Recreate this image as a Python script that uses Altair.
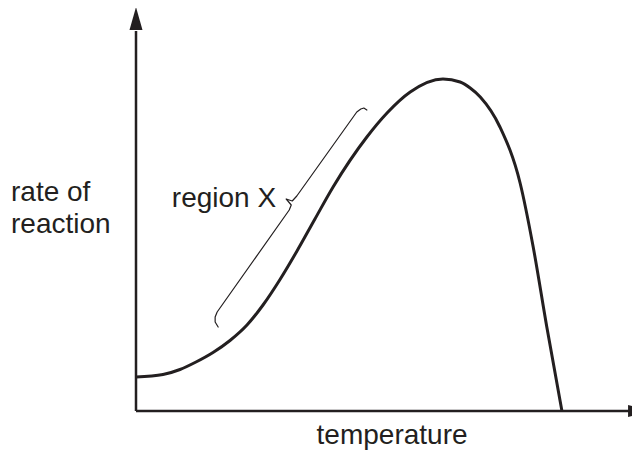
import altair as alt
import pandas as pd

INK = "#231f20"
FONT = "Liberation Sans"

# curve: rate of reaction vs temperature (arbitrary units, axes 0..100)
temp = [0, 5.36, 8.73, 11.9, 15.28, 18.65, 22.02, 25.2, 28.57, 31.94, 35.5, 39.1, 45.8, 49.8,
        54.4, 60.9, 64.3, 66.3, 68.3, 72.2, 76.2, 78.8, 81.5, 84.5]
rate = [8.5, 9.13, 10.38, 12.25, 14.63, 17.63, 21.5, 26.5, 32.88, 40.0, 48.0, 56.0, 68.5, 74.5,
        79.75, 83.0, 82.25, 80.75, 78.5, 71.0, 57.0, 41.0, 21.0, 0]

# brace marking "region X"
brace_x = [16.3, 15.7, 15.7, 16.1, 30.4, 30.8, 29.8, 31.0, 31.9, 43.8, 44.6, 45.2, 45.8]
brace_y = [21.0, 22.25, 23.5, 24.75, 50.25, 51.5, 53.0, 52.5, 53.75, 74.75, 75.5, 75.75, 75.25]

# text labels
label_text = ["rate of", "reaction", "temperature", "region X"]
label_x = [-24.8, -24.8, 50.8, 27.8]
label_y = [52.6, 44.5, -8.25, 51.1]
label_align = ["left", "left", "center", "right"]

curve_df = pd.DataFrame({"t": temp, "r": rate})
brace_df = pd.DataFrame({"t": brace_x, "r": brace_y, "i": list(range(len(brace_x)))})
labels_df = pd.DataFrame({"text": label_text, "t": label_x, "r": label_y, "align": label_align})

xs = alt.Scale(domain=[0, 98.4], nice=False, zero=False)
ys = alt.Scale(domain=[0, 100], nice=False, zero=False)
X = lambda f="t": alt.X(f"{f}:Q", scale=xs, axis=None)
Y = lambda f="r": alt.Y(f"{f}:Q", scale=ys, axis=None)

curve = alt.Chart(curve_df).mark_line(
    interpolate="monotone", color=INK, strokeWidth=3
).encode(x=X(), y=Y())

brace = alt.Chart(brace_df).mark_line(
    color=INK, strokeWidth=1.2, strokeJoin="round", strokeCap="round"
).encode(x=X(), y=Y(), order="i:O")

axes_df = pd.DataFrame({"t": [0, 0], "t2": [0, 98], "r": [0, 0], "r2": [95, 0]})
axes = alt.Chart(axes_df).mark_rule(color=INK, strokeWidth=2.5).encode(
    x=X(), x2="t2:Q", y=Y(), y2="r2:Q"
)

up_df = pd.DataFrame({"t": [0], "r": [98.1]})
up_arrow = alt.Chart(up_df).mark_point(
    shape="M0,-1L0.565,1L-0.565,1Z", size=529, filled=True, color=INK, opacity=1
).encode(x=X(), y=Y())

right_df = pd.DataFrame({"t": [99.8], "r": [0]})
right_arrow = alt.Chart(right_df).mark_point(
    shape="M1,0L-1,-0.55L-1,0.55Z", size=484, filled=True, color=INK, opacity=1
).encode(x=X(), y=Y())

def text_layer(align):
    return alt.Chart(labels_df[labels_df["align"] == align]).mark_text(
        font=FONT, fontSize=28, color=INK, align=align, baseline="alphabetic"
    ).encode(x=X(), y=Y(), text="text:N")

chart = alt.layer(
    axes, up_arrow, right_arrow, curve, brace,
    text_layer("left"), text_layer("center"), text_layer("right")
).properties(
    width=496, height=400,
    padding={"left": 128, "top": 3, "right": 0, "bottom": 40},
    autosize=alt.AutoSizeParams(type="none"),
    background="white",
).configure_view(stroke=None)

chart.save("out.html", embed_options={"renderer": "svg", "actions": False})
